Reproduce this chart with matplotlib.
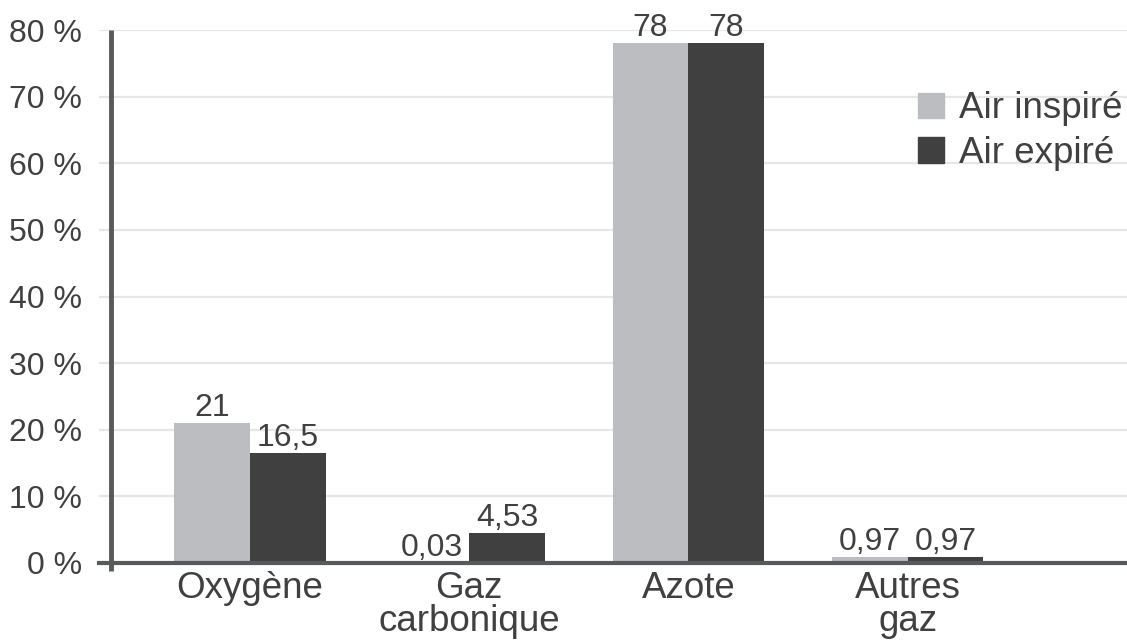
import numpy as np
import matplotlib.pyplot as plt
from matplotlib.patches import Patch
import matplotlib

matplotlib.rcParams['font.family'] = ['Liberation Sans', 'DejaVu Sans']

# data
categories = ['Oxygène', 'Gaz\ncarbonique', 'Azote', 'Autres\ngaz']
inspire = [21, 0.03, 78, 0.97]
expire = [16.5, 4.53, 78, 0.97]
inspire_lbl = ['21', '0,03', '78', '0,97']
expire_lbl = ['16,5', '4,53', '78', '0,97']
yticks = [0, 10, 20, 30, 40, 50, 60, 70, 80]

c_in = '#bcbdc0'
c_ex = '#404041'
txt = '#404040'
axis_c = '#58595b'
fs = 23      # ticks, values
fs_big = 26.5  # categories, legend

W, H = 1127, 641
fig = plt.figure(figsize=(W / 100, H / 100), dpi=100)
ax = fig.add_axes([99 / W, 78 / H, 1 - 99 / W, 533 / H])

x = np.arange(len(categories))
bw = 0.345
ax.bar(x - bw / 2, inspire, bw, color=c_in, zorder=3)
ax.bar(x + bw / 2, expire, bw, color=c_ex, zorder=3)

for xi, v, s in zip(x - bw / 2, inspire, inspire_lbl):
    ax.annotate(s, (xi, v), xytext=(0, 0), textcoords='offset points',
                ha='center', va='bottom', fontsize=fs, color=txt)
for xi, v, s in zip(x + bw / 2, expire, expire_lbl):
    ax.annotate(s, (xi, v), xytext=(0, 0), textcoords='offset points',
                ha='center', va='bottom', fontsize=fs, color=txt)

ax.set_xlim(-0.688, 4.0)
ax.set_ylim(0, 80)

# grid lines (also act as y ticks)
for t in yticks[1:]:
    ax.axhline(t, color='#e6e6e6', lw=1.6, zorder=1)

for s in ax.spines.values():
    s.set_visible(False)

# axes lines
x0 = 11.5 / (W - 99)
ax.plot([x0, x0], [-1.2, 80], color=axis_c, lw=3.5, zorder=4,
        transform=matplotlib.transforms.blended_transform_factory(ax.transAxes, ax.transData),
        clip_on=False, solid_capstyle='butt')
ax.axhline(0, color=axis_c, lw=3.0, zorder=4, clip_on=False)

ax.set_yticks(yticks)
ax.set_yticklabels([f'{t} %' for t in yticks])
ax.set_xticks(x)
ax.set_xticklabels(categories, linespacing=0.93, fontsize=fs_big)
ax.tick_params(axis='y', length=0, pad=12, labelsize=fs, labelcolor=txt)
ax.tick_params(axis='x', length=0, pad=5.5, labelcolor=txt)

handles = [Patch(color=c_in), Patch(color=c_ex)]
leg = fig.legend(handles, ['Air inspiré', 'Air expiré'], loc='upper left',
                 bbox_to_anchor=(900 / W, 1 - 73 / H), frameon=False,
                 fontsize=fs_big, handlelength=0.7, handleheight=0.7,
                 handletextpad=0.4, labelspacing=0.25, borderpad=0)
for t in leg.get_texts():
    t.set_color(txt)

fig.savefig('out.png', dpi=100)
